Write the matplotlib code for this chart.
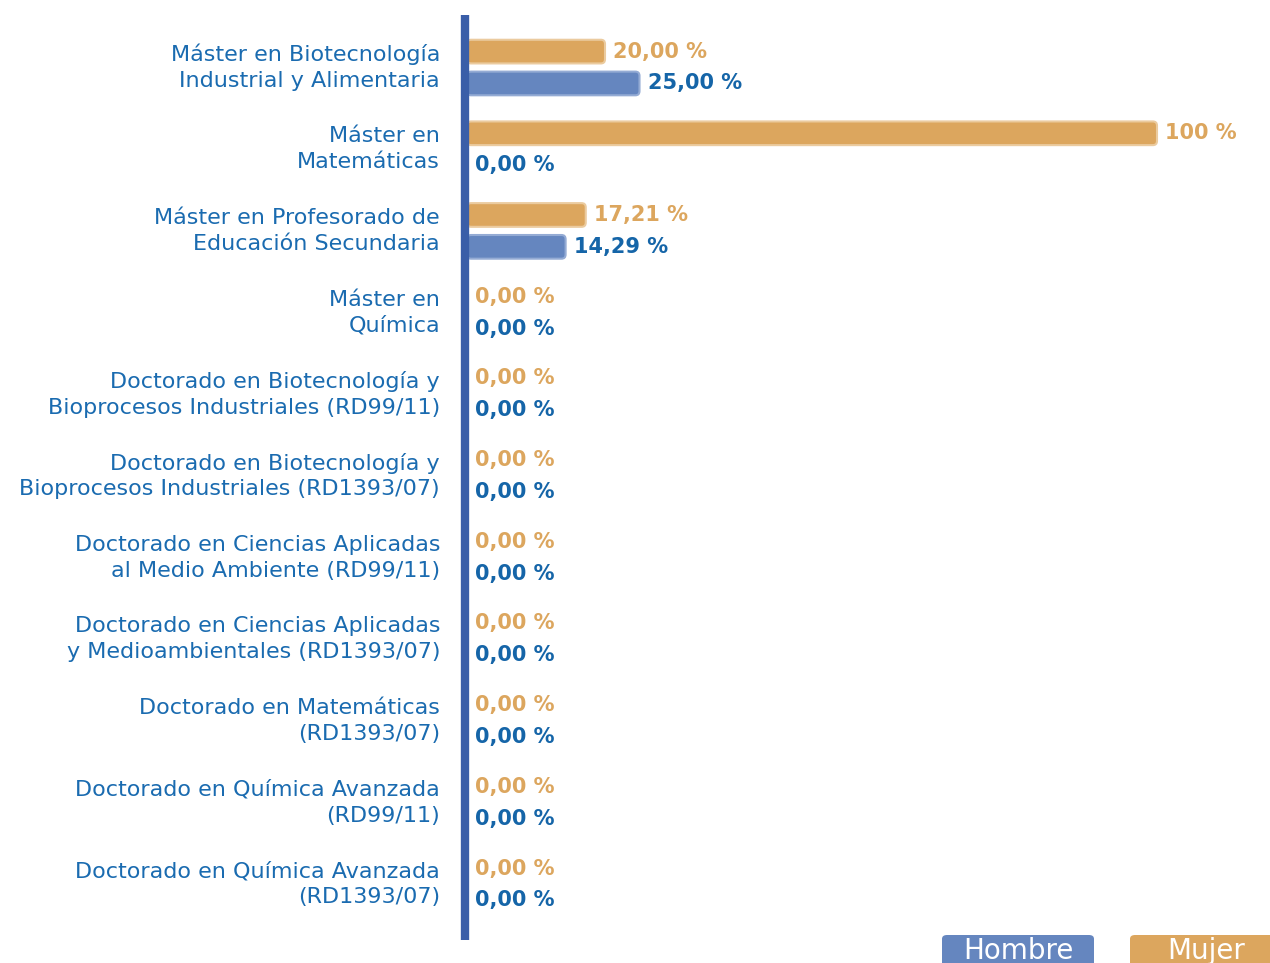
import matplotlib.pyplot as plt
from matplotlib.patches import FancyBboxPatch
import numpy as np

categories = [
    "Máster en Biotecnología\nIndustrial y Alimentaria",
    "Máster en\nMatemáticas",
    "Máster en Profesorado de\nEducación Secundaria",
    "Máster en\nQuímica",
    "Doctorado en Biotecnología y\nBioprocesos Industriales (RD99/11)",
    "Doctorado en Biotecnología y\nBioprocesos Industriales (RD1393/07)",
    "Doctorado en Ciencias Aplicadas\nal Medio Ambiente (RD99/11)",
    "Doctorado en Ciencias Aplicadas\ny Medioambientales (RD1393/07)",
    "Doctorado en Matemáticas\n(RD1393/07)",
    "Doctorado en Química Avanzada\n(RD99/11)",
    "Doctorado en Química Avanzada\n(RD1393/07)",
]
mujer = [20.00, 100, 17.21, 0, 0, 0, 0, 0, 0, 0, 0]
hombre = [25.00, 0, 14.29, 0, 0, 0, 0, 0, 0, 0, 0]
mujer_labels = ["20,00 %", "100 %", "17,21 %", "0,00 %", "0,00 %", "0,00 %",
                "0,00 %", "0,00 %", "0,00 %", "0,00 %", "0,00 %"]
hombre_labels = ["25,00 %", "0,00 %", "14,29 %", "0,00 %", "0,00 %", "0,00 %",
                 "0,00 %", "0,00 %", "0,00 %", "0,00 %", "0,00 %"]

c_mujer = "#DCA65E"
c_hombre = "#6586BF"
c_hombre_txt = "#1565A8"
c_label = "#1A6BB0"
c_axis = "#3A5EA8"

fig = plt.figure(figsize=(12.7, 9.63), dpi=100)
ax = fig.add_axes([467 / 1270, 23 / 963, 1 - 467 / 1270, 925 / 963])

y = np.arange(len(categories))
off = 0.195
h = 0.29


def rounded_bars(bars, color, edge):
    # swap plain rectangles for rounded ones (px-based radius)
    for b in bars:
        b.set_visible(False)
        if b.get_width() <= 0:
            continue
        p = FancyBboxPatch((b.get_x(), b.get_y()), b.get_width(), b.get_height(),
                           boxstyle="round,pad=0,rounding_size=0.6",
                           mutation_aspect=0.085, fc=color, ec=edge, lw=1.5)
        ax.add_patch(p)


bm = ax.barh(y - off, mujer, height=h, color=c_mujer)
bh = ax.barh(y + off, hombre, height=h, color=c_hombre)
rounded_bars(bm, c_mujer, "#EBCB9F")
rounded_bars(bh, c_hombre, "#94ABD4")

for i in range(len(categories)):
    ax.text(mujer[i] + 1.2, y[i] - off, mujer_labels[i], color=c_mujer,
            fontsize=15, fontweight="bold", va="center", ha="left")
    ax.text(hombre[i] + 1.2, y[i] + off, hombre_labels[i], color=c_hombre_txt,
            fontsize=15, fontweight="bold", va="center", ha="left")
    ax.text(-3.9, y[i], categories[i], color=c_label, fontsize=16,
            ha="right", va="center", linespacing=1.37)

ax.set_xlim(0, (1270 - 467) / 6.9)
ax.set_ylim(10.68, -0.643)
for s in ["top", "right", "bottom"]:
    ax.spines[s].set_visible(False)
ax.spines["left"].set_color(c_axis)
ax.spines["left"].set_linewidth(6)
ax.spines["left"].set_capstyle("butt")
ax.spines["left"].set_position(("data", -0.35))
ax.set_xticks([])
ax.set_yticks([])

# legend boxes at the bottom, cut by the figure edge
W, H = 1270, 963
for x0, x1, name, col in [(942, 1094, "Hombre", c_hombre), (1130, 1290, "Mujer", c_mujer)]:
    fig.patches.append(FancyBboxPatch((x0 / W, (H - 963 - 10) / H), (x1 - x0) / W, 38 / H,
                                      boxstyle="round,pad=0,rounding_size=0.004",
                                      transform=fig.transFigure, fc=col, ec="none"))
    fig.text((x0 + 76) / W, 12 / H, name, color="white", fontsize=20,
             ha="center", va="center")

fig.savefig("out.png", dpi=100)
